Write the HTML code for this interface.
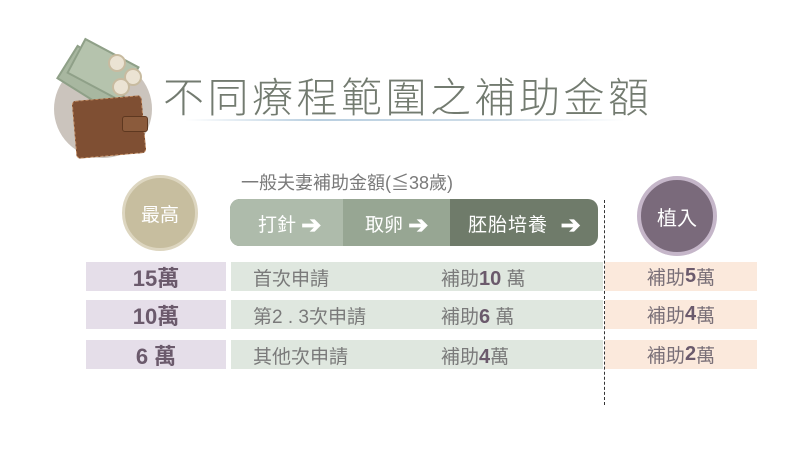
<!DOCTYPE html>
<html><head><meta charset="utf-8"><style>
*{margin:0;padding:0;box-sizing:border-box}
body{width:810px;height:450px;background:#fff;position:relative;overflow:hidden;font-family:"Liberation Sans","Noto Sans CJK TC",sans-serif}
.a{position:absolute}
.t{white-space:nowrap}
.c{display:flex;align-items:center;justify-content:center}
.L{left:86px;width:140px;height:29px;background:#e5dee9;color:#6b5a6c;font-size:22px;font-weight:bold}
.G{left:231px;width:372px;height:29px;background:#dfe7df;color:#7a7a7a;font-size:19px}
.O{left:605px;width:152px;height:29px;background:#fbe9dc;color:#7a7078;font-size:19px}
.G span{position:absolute;top:2px}
b{color:#6b5a6c;font-size:20px}
.ar{font-weight:bold;font-size:24px;position:relative;top:2px}
</style></head><body>
<div class="a" style="left:54px;top:60px;width:98px;height:98px;border-radius:50%;background:#cbc4bd"></div>
<div class="a" style="left:62px;top:58px;width:62px;height:40px;background:#a8b7a0;transform:rotate(32deg);border:2px solid #8fa088"></div>
<div class="a" style="left:72px;top:50px;width:62px;height:40px;background:#b5c3ad;transform:rotate(28deg);border:2px solid #8fa088"></div>
<div class="a" style="left:108px;top:54px;width:18px;height:18px;border-radius:50%;background:#ebe3d3;border:2px solid #c8bba0"></div>
<div class="a" style="left:124px;top:68px;width:18px;height:18px;border-radius:50%;background:#ebe3d3;border:2px solid #c8bba0"></div>
<div class="a" style="left:112px;top:78px;width:18px;height:18px;border-radius:50%;background:#ebe3d3;border:2px solid #c8bba0"></div>
<div class="a" style="left:74px;top:98px;width:70px;height:58px;background:#7f4f33;border-radius:4px;transform:rotate(-5deg);border:1px dashed #c08a60"></div>
<div class="a" style="left:122px;top:116px;width:26px;height:16px;background:#8b5b3c;border-radius:3px;border:1px solid #5e3820"></div>
<div class="a t" style="left:163px;top:64px;font-size:41px;color:#737b70;letter-spacing:3.5px;font-weight:300">不同療程範圍之補助金額</div>
<div class="a" style="left:185px;top:119px;width:440px;height:2px;background:linear-gradient(90deg,rgba(180,200,220,0),#b9cfe0 30%,#cfdde8 70%,rgba(200,215,230,0))"></div>
<div class="a c" style="left:122px;top:175px;width:76px;height:76px;border-radius:50%;background:#c7be9f;border:3px solid #ddd6c0;color:#fff;font-size:19px">最高</div>
<div class="a c" style="left:637px;top:176px;width:80px;height:80px;border-radius:50%;background:#7a6a7b;border:4px solid #c5b6c9;color:#fff;font-size:20px">植入</div>
<div class="a t" style="left:241px;top:169px;font-size:18px;color:#7a7a7a">一般夫妻補助金額(≦38歲)</div>
<div class="a" style="left:230px;top:199px;width:368px;height:47px;border-radius:10px;overflow:hidden;background:#6f7b6a">
<div class="a" style="left:0;top:0;width:220px;height:47px;background:#97a693"></div>
<div class="a" style="left:0;top:0;width:113px;height:47px;background:#aebbab"></div>
</div>
<div class="a t" style="left:258px;top:209px;font-size:19px;color:#fff">打針 <span class="ar">➔</span></div>
<div class="a t" style="left:365px;top:209px;font-size:19px;color:#fff">取卵 <span class="ar">➔</span></div>
<div class="a t" style="left:468px;top:209px;font-size:19px;color:#fff;letter-spacing:1px">胚胎培養 &nbsp;<span class="ar">➔</span></div>
<div class="a" style="left:604px;top:200px;height:205px;border-left:1.5px dashed #333"></div>
<div class="a c L" style="top:262px">15萬</div>
<div class="a c L" style="top:300px">10萬</div>
<div class="a c L" style="top:340px">6 萬</div>
<div class="a G" style="top:262px"><span style="left:22px">首次申請</span><span style="left:210px">補助<b>10</b> 萬</span></div>
<div class="a G" style="top:300px"><span style="left:22px">第2 . 3次申請</span><span style="left:210px">補助<b>6</b> 萬</span></div>
<div class="a G" style="top:340px"><span style="left:22px">其他次申請</span><span style="left:210px">補助<b>4</b>萬</span></div>
<div class="a c O" style="top:262px">補助<b>5</b> 萬</div>
<div class="a c O" style="top:300px">補助<b>4</b> 萬</div>
<div class="a c O" style="top:340px">補助<b>2</b>萬</div>
</body></html>
